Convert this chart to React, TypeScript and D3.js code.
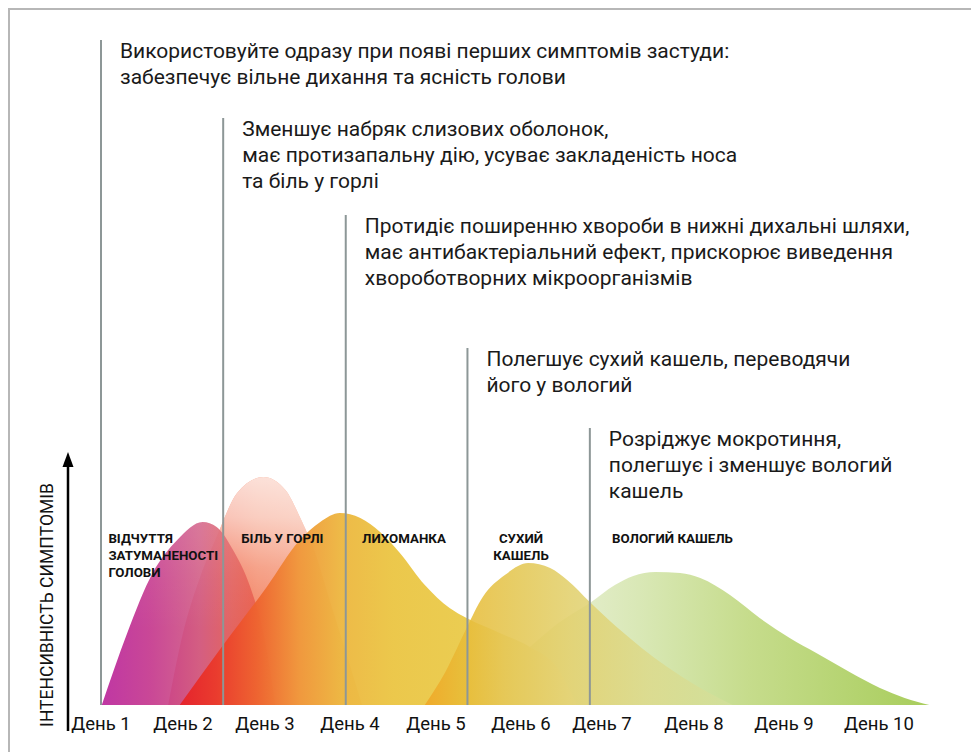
import React, { useEffect, useRef } from 'react';
import * as d3 from 'd3';

const dayLabels = ['День 1', 'День 2', 'День 3', 'День 4', 'День 5', 'День 6', 'День 7', 'День 8', 'День 9', 'День 10'];
const dayDomain = [1, 2, 3, 4, 5, 6, 7, 8, 9, 10];

// symptom intensity curves: [day, intensity 0..100]
const headFog = [[1.01, 0], [1.32, 28.8], [1.63, 52.8], [1.93, 66], [2.24, 73.2], [2.41, 71.2], [2.61, 62], [2.82, 47.2], [2.98, 28.8], [3.06, 14], [3.12, 0]];
const soreThroat = [[1.82, 0], [2.0, 28.8], [2.21, 51.2], [2.41, 67.2], [2.66, 84.8], [2.98, 91.2], [3.24, 86], [3.41, 75.2], [3.59, 60.8], [3.76, 42], [3.98, 18], [4.14, 0]];
const fever = [[1.96, 0], [2.49, 24], [3.02, 47.2], [3.41, 66], [3.65, 73.2], [3.88, 76.8], [4.12, 74.8], [4.35, 69.2], [4.58, 60.8], [4.87, 48], [5.16, 38.8], [5.36, 34.8], [5.75, 28.8], [6.11, 23.2], [6.44, 15.2], [6.69, 0]];
const dryCough = [[4.87, 0], [5.11, 13.2], [5.36, 30.8], [5.55, 43.2], [5.81, 52], [6.09, 56.8], [6.36, 54.8], [6.57, 50], [6.85, 41.2], [7.16, 31.2], [7.71, 15.2], [8.07, 6.8], [8.43, 0]];
const wetCough = [[5.28, 0], [5.64, 10], [6.11, 23.2], [6.48, 33.2], [6.85, 40.8], [7.14, 48], [7.34, 51.6], [7.58, 53.2], [7.85, 52.8], [8.07, 50.8], [8.4, 44], [8.73, 34.8], [9.06, 26.8], [9.34, 20.8], [9.69, 13.2], [10.01, 6.8], [10.27, 2.8], [10.53, 0]];

const symptomLabels = [['ВІДЧУТТЯ', 'ЗАТУМАНЕНОСТІ', 'ГОЛОВИ'], ['БІЛЬ У ГОРЛІ'], ['ЛИХОМАНКА'], ['СУХИЙ', 'КАШЕЛЬ'], ['ВОЛОГИЙ КАШЕЛЬ']];
const symptomLabelDays = [1.09, 2.71, 4.14, 6.0, 7.11];

// when each step of the treatment starts
const stepDays = [1.0, 2.49, 3.95, 5.37, 6.85];
const stepTexts = [
  ['Використовуйте одразу при появі перших симптомів застуди:', 'забезпечує вільне дихання та ясність голови'],
  ['Зменшує набряк слизових оболонок,', 'має протизапальну дію, усуває закладеність носа', 'та біль у горлі'],
  ['Протидіє поширенню хвороби в нижні дихальні шляхи,', 'має антибактеріальний ефект, прискорює виведення', 'хвороботворних мікроорганізмів'],
  ['Полегшує сухий кашель, переводячи', 'його у вологий'],
  ['Розріджує мокротиння,', 'полегшує і зменшує вологий', 'кашель'],
];

const yAxisTitle = 'ІНТЕНСИВНІСТЬ СИМПТОМІВ';

const App = () => {
  const ref = useRef(null);

  useEffect(() => {
    const width = 971;
    const height = 752;
    const font = 'Roboto, "Noto Sans", sans-serif';

    const svg = d3.select(ref.current);
    svg.selectAll('*').remove();

    // tick positions in the original are hand placed, so polylinear scale
    const x = d3.scaleLinear().domain(dayDomain).range([101, 183, 265, 350, 436, 521, 602, 694, 784, 879]);
    const y = d3.scaleLinear().domain([0, 100]).range([705, 455]);

    const stepTops = [40, 118, 215, 348, 428];

    svg.append('rect').attr('width', width).attr('height', height).attr('fill', '#fff');
    svg.append('path').attr('d', `M9,${height}V9H${width}`).attr('fill', 'none').attr('stroke', '#b7b7b7').attr('stroke-width', 2);

    const defs = svg.append('defs');

    const hGrad = (id, stops) => {
      const d0 = stops[0][0];
      const d1 = stops[stops.length - 1][0];
      const g = defs.append('linearGradient').attr('id', id).attr('gradientUnits', 'userSpaceOnUse')
        .attr('x1', x(d0)).attr('x2', x(d1)).attr('y1', 0).attr('y2', 0);
      stops.forEach(s => {
        g.append('stop').attr('offset', (x(s[0]) - x(d0)) / (x(d1) - x(d0))).attr('stop-color', s[1]);
      });
    };
    const vGlow = (id, stops) => {
      const g = defs.append('linearGradient').attr('id', id).attr('gradientUnits', 'userSpaceOnUse')
        .attr('x1', 0).attr('x2', 0).attr('y1', y(100)).attr('y2', y(0));
      stops.forEach(s => {
        g.append('stop').attr('offset', (y(s[0]) - y(100)) / (y(0) - y(100))).attr('stop-color', '#fff').attr('stop-opacity', s[1]);
      });
    };

    const series = [
      { id: 'wet', data: wetCough, opacity: 1,
        stops: [[5.2, '#f1f5e2'], [6.5, '#e6eed0'], [7.4, '#d9e8b6'], [8.6, '#c6dc8c'], [10.53, '#a8cd5c']] },
      { id: 'throat', data: soreThroat, opacity: 0.93,
        stops: [[1.82, '#ea3428'], [2.3, '#ef5a3c'], [2.9, '#f2805e'], [3.5, '#f39070'], [4.14, '#f29a78']],
        glow: [[92, 0.75], [75, 0.58], [55, 0.22], [35, 0]] },
      { id: 'head', data: headFog, opacity: 0.94,
        stops: [[1.0, '#bb2a9e'], [1.6, '#c63c90'], [2.2, '#d25e86'], [2.6, '#e26462'], [3.12, '#ee5a3c']],
        glow: [[75, 0.12], [50, 0.04], [30, 0]] },
      { id: 'fever', data: fever, opacity: 0.97,
        stops: [[1.96, '#e6222a'], [2.4, '#ea3a2c'], [2.9, '#ee6430'], [3.4, '#f0983c'], [3.9, '#edb842'], [4.5, '#ebc646'], [5.35, '#eacb4c'], [5.8, '#efe2a8'], [6.69, '#f3eecf']] },
      { id: 'dry', data: dryCough, opacity: 0.88,
        stops: [[4.87, '#f0a626'], [5.3, '#e8bb36'], [5.9, '#e4c650'], [6.6, '#e2d06c'], [7.5, '#dcda8c'], [8.43, '#d2e09c']] },
    ];

    const area = d3.area()
      .x(d => x(d[0]))
      .y0(y(0))
      .y1(d => y(d[1]))
      .curve(d3.curveMonotoneX);

    series.forEach(s => {
      hGrad(`grad-${s.id}`, s.stops);
      svg.append('path').attr('d', area(s.data)).attr('fill', `url(#grad-${s.id})`).attr('fill-opacity', s.opacity);
      if (s.glow) {
        vGlow(`glow-${s.id}`, s.glow);
        svg.append('path').attr('d', area(s.data)).attr('fill', `url(#glow-${s.id})`);
      }
    });

    // treatment step lines + texts
    stepDays.forEach((d, i) => {
      const lx = x(d);
      svg.append('line').attr('x1', lx).attr('x2', lx).attr('y1', stepTops[i]).attr('y2', y(0))
        .attr('stroke', '#8d9797').attr('stroke-width', 2);
      const t = svg.append('text').attr('x', lx + 19).attr('y', stepTops[i] + 18)
        .attr('font-family', font).attr('font-size', 21).attr('fill', '#1a1a1a');
      stepTexts[i].forEach((line, j) => {
        t.append('tspan').attr('x', lx + 19).attr('dy', j === 0 ? 0 : 26).text(line);
      });
    });

    // symptom names
    symptomLabels.forEach((lines, i) => {
      const mid = i === 3;
      const t = svg.append('text').attr('x', x(symptomLabelDays[i])).attr('y', 543)
        .attr('font-family', font).attr('font-size', 13.3).attr('font-weight', 700).attr('fill', '#111')
        .attr('text-anchor', mid ? 'middle' : 'start');
      lines.forEach((line, j) => {
        t.append('tspan').attr('x', x(symptomLabelDays[i])).attr('dy', j === 0 ? 0 : 17).text(line);
      });
    });

    // x labels
    svg.append('g').selectAll('text').data(dayLabels).join('text')
      .attr('x', (d, i) => x(dayDomain[i]))
      .attr('y', 730)
      .attr('text-anchor', 'middle')
      .attr('font-family', font).attr('font-size', 18.5).attr('fill', '#111')
      .text(d => d);

    // y arrow
    svg.append('line').attr('x1', 68).attr('x2', 68).attr('y1', 731).attr('y2', 462).attr('stroke', '#000').attr('stroke-width', 2.5);
    svg.append('path').attr('d', 'M62.5,467L68,452L73.5,467Z').attr('fill', '#000');

    svg.append('text')
      .attr('transform', `translate(53,${605}) rotate(-90)`)
      .attr('text-anchor', 'middle')
      .attr('font-family', font).attr('font-size', 17.5).attr('fill', '#111')
      .text(yAxisTitle);
  }, []);

  return <svg ref={ref} width={971} height={752} style={{ position: 'absolute', left: 0, top: 0 }} />;
};

export default App;
